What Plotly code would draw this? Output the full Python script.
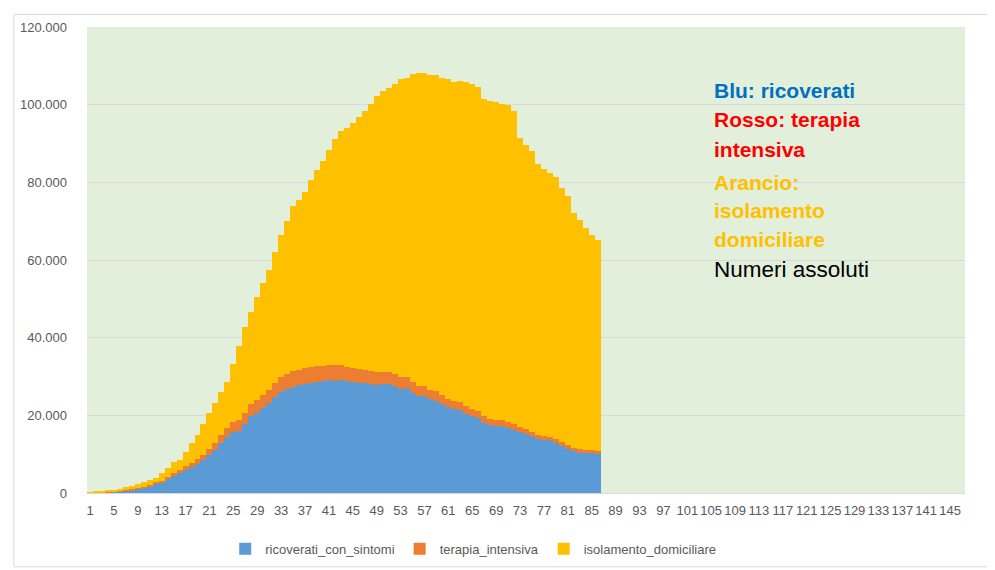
import plotly.graph_objects as go

# Days (category index) with data
days = list(range(1, 87))

ricoverati_con_sintomi = [
    101, 114, 128, 248, 345, 401, 639, 742, 1034, 1346, 1790, 2394, 2651, 3557, 4316, 5038,
    5838, 6650, 7426, 8372, 9663, 11025, 12894, 14363, 15757, 16020, 17708, 19846, 20692,
    21937, 23112, 24753, 26029, 26676, 27386, 27795, 28192, 28403, 28540, 28741, 29010,
    28949, 28976, 28718, 28485, 28399, 28242, 28144, 27847, 28023, 28011, 27643, 26893,
    26952, 25786, 25033, 24906, 24134, 23805, 22871, 22068, 21533, 21372, 20353, 19723,
    19210, 18149, 17569, 17357, 17242, 16823, 16270, 15769, 15174, 14636, 13834, 13618,
    13539, 12865, 12172, 11453, 10792, 10400, 10311, 10207, 9991,
]

terapia_intensiva = [
    26, 35, 36, 56, 64, 105, 140, 166, 229, 295, 351, 462, 567, 650, 733, 877, 1028, 1153,
    1328, 1518, 1672, 1851, 2060, 2257, 2498, 2655, 2857, 3009, 3204, 3396, 3489, 3612,
    3732, 3856, 3906, 3981, 4023, 4035, 4053, 4068, 3994, 3977, 3898, 3792, 3693, 3605,
    3497, 3381, 3343, 3260, 3186, 3079, 2936, 2812, 2733, 2635, 2573, 2471, 2384, 2267,
    2173, 2102, 2009, 1956, 1863, 1795, 1694, 1578, 1539, 1501, 1479, 1427, 1333, 1311,
    1168, 1034, 1027, 1002, 999, 952, 893, 855, 808, 775, 762, 749,
]

isolamento_domiciliare = [
    94, 162, 221, 284, 412, 543, 798, 927, 1000, 1065, 1155, 1060, 1843, 2180, 2936, 2599,
    3724, 5036, 6201, 7860, 9268, 10197, 11108, 12090, 14935, 19185, 22116, 23783, 26522,
    28697, 30920, 33648, 36653, 39533, 42588, 43752, 45420, 48134, 50456, 52579, 55270,
    58320, 60313, 61557, 63084, 64873, 66534, 68744, 71063, 72333, 73094, 74696, 76778,
    77198, 79252, 80589, 80758, 81104, 81510, 81710, 82286, 82212, 82722, 83504, 83619,
    83652, 81708, 81796, 81808, 81436, 81678, 80770, 74426, 73139, 72157, 69974, 68679,
    67947, 67402, 65333, 64094, 60423, 58979, 57265, 55584, 54389,
]

# Axis: 147 categories, label every 4th
n_categories = 147
x_tick_values = list(range(1, 146, 4))
x_tick_labels = [str(v) for v in x_tick_values]
y_tick_values = [0, 20000, 40000, 60000, 80000, 100000, 120000]

series_names = ["ricoverati_con_sintomi", "terapia_intensiva", "isolamento_domiciliare"]
series_colors = ["#5B9BD5", "#ED7D31", "#FFC000"]
series_values = [ricoverati_con_sintomi, terapia_intensiva, isolamento_domiciliare]

W, H = 995, 570


# map target screen coordinates to figure coordinates (page offset observed)
def fx(s):
    return s - 10


def fy(s):
    return (s - 11) / 0.99


L = fx(84)
R = W - fx(967)
T = fy(24)
B = H - fy(491)
PW, PH = W - L - R, H - T - B


def px(s):
    return (fx(s) - L) / PW


def py(s):
    return (H - B - fy(s)) / PH


fig = go.Figure()
for name, color, vals in zip(series_names, series_colors, series_values):
    fig.add_trace(go.Bar(x=days, y=vals, name=name, marker=dict(color=color, line=dict(width=0))))

FONT = "Liberation Sans"
fig.update_layout(
    width=W, height=H,
    margin=dict(l=L, r=R, t=T, b=B),
    barmode="stack", bargap=0,
    plot_bgcolor="#E2EFDA", paper_bgcolor="white",
    separators=",.",
    font=dict(family=FONT, size=13, color="#595959"),
    showlegend=True,
    legend=dict(orientation="h", x=px(223), xanchor="left", y=py(547), yanchor="middle",
                font=dict(family=FONT, size=13, color="#595959"), traceorder="normal"),
    xaxis=dict(range=[0.5, n_categories + 0.5], tickmode="array", tickvals=x_tick_values,
               ticktext=x_tick_labels, showgrid=False, zeroline=False, showline=True,
               linecolor="#D9D9D9", linewidth=1, ticks="", ticklabelstandoff=5),
    yaxis=dict(range=[0, 120000], tickmode="array", tickvals=y_tick_values, tickformat=",.0f",
               showgrid=True, gridcolor="#D9D9D9", gridwidth=1, zeroline=False, showline=False,
               ticks="", ticklabelstandoff=19),
)

# outer chart border
fig.add_shape(type="rect", xref="paper", yref="paper", x0=(0.5 - L) / PW, x1=px(990),
              y0=py(565), y1=(H - B - 0.5) / PH,
              line=dict(color="#D9D9D9", width=1), fillcolor="rgba(0,0,0,0)", layer="below")

lines = [
    ("<b>Blu: ricoverati</b>", "#0070C0", 88, 21),
    ("<b>Rosso: terapia</b>", "#FF0000", 117, 21),
    ("<b>intensiva</b>", "#FF0000", 147, 21),
    ("<b>Arancio:</b>", "#FFC000", 180, 21),
    ("<b>isolamento</b>", "#FFC000", 208, 21),
    ("<b>domiciliare</b>", "#FFC000", 237, 21),
    ("Numeri assoluti", "#000000", 267, 22.5),
]
for text, color, yc, size in lines:
    fig.add_annotation(text=text, xref="paper", yref="paper", x=px(713), y=py(yc),
                       xanchor="left", yanchor="middle", showarrow=False,
                       font=dict(family=FONT, size=size, color=color))

fig.write_html("out.html")
